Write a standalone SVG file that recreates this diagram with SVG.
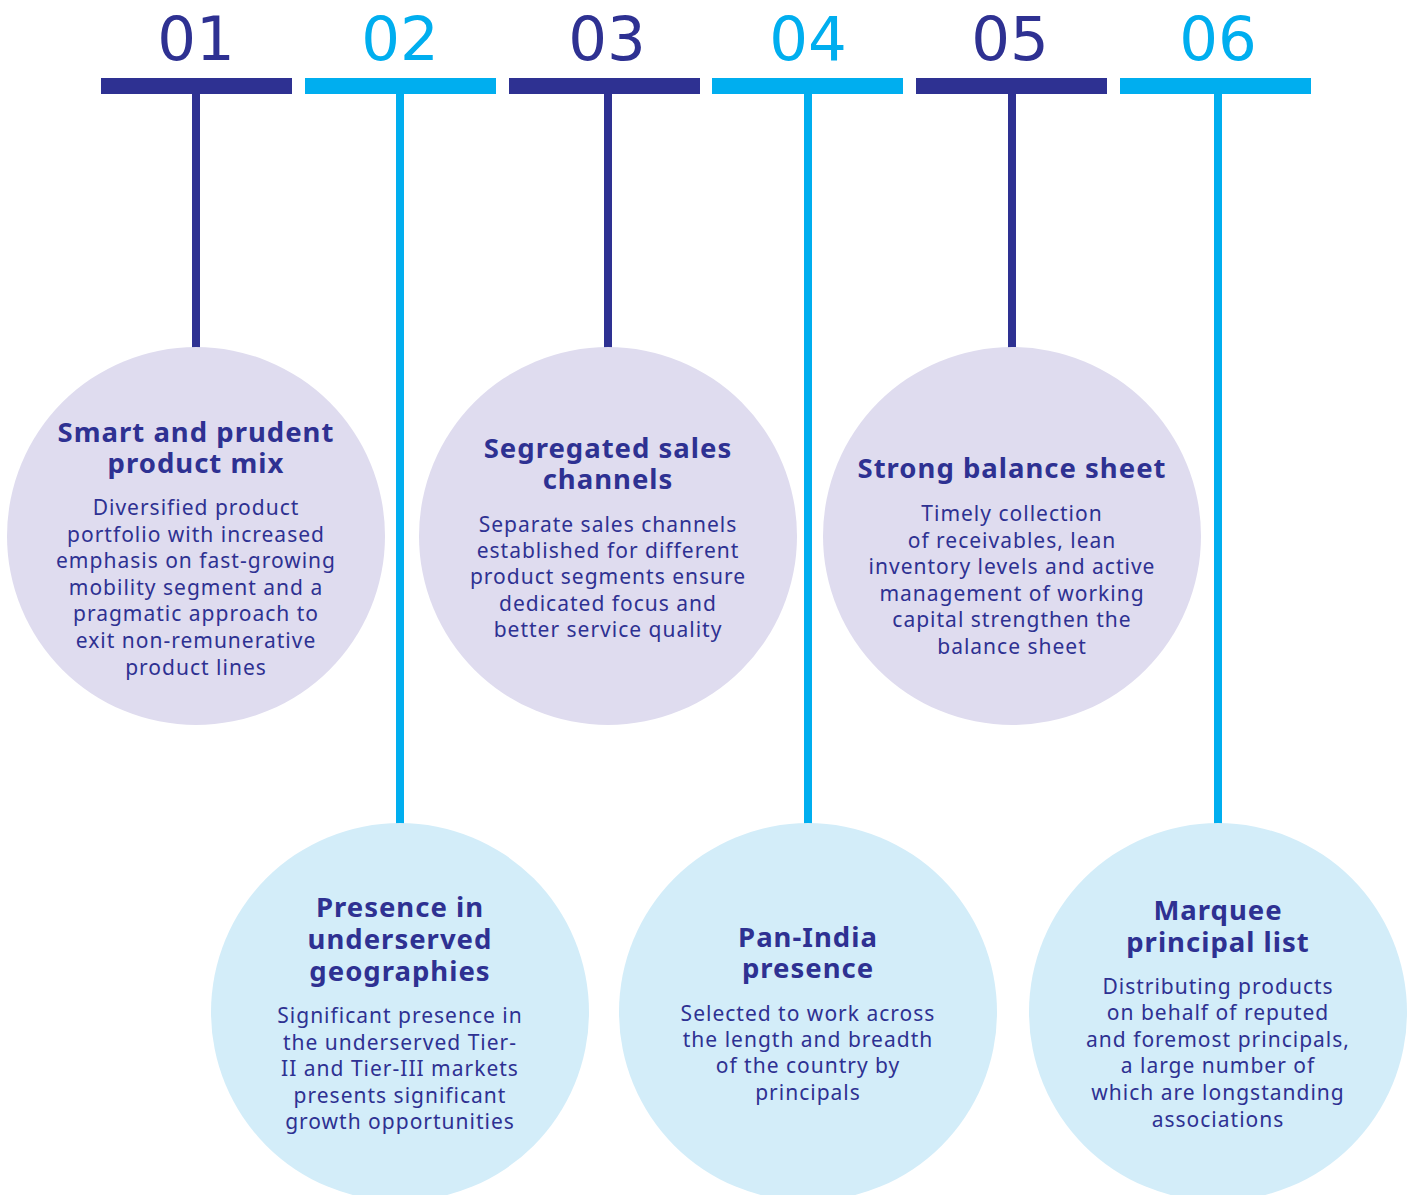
<svg xmlns="http://www.w3.org/2000/svg" width="1414" height="1195" viewBox="0 0 1414 1195">
<style>
.num{font-family:"DejaVu Sans",sans-serif;font-size:61px;text-anchor:middle}
.dk{fill:#2e3192}
.lt{fill:#00aeef}
.cp{fill:#dfdcef}
.cb{fill:#d3edf9}
.t{font-family:"Noto Sans","Open Sans",sans-serif;font-weight:bold;font-size:27.5px;letter-spacing:1px;fill:#2e3192;text-anchor:middle}
.b{font-family:"Noto Sans","Open Sans",sans-serif;font-size:21px;letter-spacing:1px;fill:#2e3192;text-anchor:middle}
</style>
<rect width="1414" height="1195" fill="#ffffff"/>
<g id="connectors">
<rect class="dk" x="192" y="90" width="8" height="258"/>
<rect class="lt" x="396" y="90" width="8" height="734"/>
<rect class="dk" x="604" y="90" width="8" height="258"/>
<rect class="lt" x="804" y="90" width="8" height="734"/>
<rect class="dk" x="1008" y="90" width="8" height="258"/>
<rect class="lt" x="1214" y="90" width="8" height="734"/>
</g>
<g id="header-01"><text class="num dk" x="196" y="60">01</text><rect class="dk" x="101" y="78" width="191" height="16"/></g>
<g id="header-02"><text class="num lt" x="400" y="60">02</text><rect class="lt" x="305" y="78" width="191" height="16"/></g>
<g id="header-03"><text class="num dk" x="607" y="60">03</text><rect class="dk" x="509" y="78" width="191" height="16"/></g>
<g id="header-04"><text class="num lt" x="808" y="60">04</text><rect class="lt" x="712" y="78" width="191" height="16"/></g>
<g id="header-05"><text class="num dk" x="1010" y="60">05</text><rect class="dk" x="916" y="78" width="191" height="16"/></g>
<g id="header-06"><text class="num lt" x="1218" y="60">06</text><rect class="lt" x="1120" y="78" width="191" height="16"/></g>
<g id="node-01">
<circle class="cp" cx="196" cy="536" r="189"/>
<text class="t" x="196" y="442">Smart and prudent</text>
<text class="t" x="196" y="473">product mix</text>
<text class="b" x="196" y="515">Diversified product</text>
<text class="b" x="196" y="542">portfolio with increased</text>
<text class="b" x="196" y="568">emphasis on fast-growing</text>
<text class="b" x="196" y="595">mobility segment and a</text>
<text class="b" x="196" y="621">pragmatic approach to</text>
<text class="b" x="196" y="648">exit non-remunerative</text>
<text class="b" x="196" y="675">product lines</text>
</g>
<g id="node-02">
<circle class="cb" cx="400" cy="1012" r="189"/>
<text class="t" x="400" y="917">Presence in</text>
<text class="t" x="400" y="949">underserved</text>
<text class="t" x="400" y="981">geographies</text>
<text class="b" x="400" y="1023">Significant presence in</text>
<text class="b" x="400" y="1050">the underserved Tier-</text>
<text class="b" x="400" y="1076">II and Tier-III markets</text>
<text class="b" x="400" y="1103">presents significant</text>
<text class="b" x="400" y="1129">growth opportunities</text>
</g>
<g id="node-03">
<circle class="cp" cx="608" cy="536" r="189"/>
<text class="t" x="608" y="458">Segregated sales</text>
<text class="t" x="608" y="489">channels</text>
<text class="b" x="608" y="532">Separate sales channels</text>
<text class="b" x="608" y="558">established for different</text>
<text class="b" x="608" y="584">product segments ensure</text>
<text class="b" x="608" y="611">dedicated focus and</text>
<text class="b" x="608" y="637">better service quality</text>
</g>
<g id="node-04">
<circle class="cb" cx="808" cy="1012" r="189"/>
<text class="t" x="808" y="947">Pan-India</text>
<text class="t" x="808" y="978">presence</text>
<text class="b" x="808" y="1021">Selected to work across</text>
<text class="b" x="808" y="1047">the length and breadth</text>
<text class="b" x="808" y="1073">of the country by</text>
<text class="b" x="808" y="1100">principals</text>
</g>
<g id="node-05">
<circle class="cp" cx="1012" cy="536" r="189"/>
<text class="t" x="1012" y="478">Strong balance sheet</text>
<text class="b" x="1012" y="521">Timely collection</text>
<text class="b" x="1012" y="548">of receivables, lean</text>
<text class="b" x="1012" y="574">inventory levels and active</text>
<text class="b" x="1012" y="601">management of working</text>
<text class="b" x="1012" y="627">capital strengthen the</text>
<text class="b" x="1012" y="654">balance sheet</text>
</g>
<g id="node-06">
<circle class="cb" cx="1218" cy="1012" r="189"/>
<text class="t" x="1218" y="920">Marquee</text>
<text class="t" x="1218" y="952">principal list</text>
<text class="b" x="1218" y="994">Distributing products</text>
<text class="b" x="1218" y="1020">on behalf of reputed</text>
<text class="b" x="1218" y="1047">and foremost principals,</text>
<text class="b" x="1218" y="1073">a large number of</text>
<text class="b" x="1218" y="1100">which are longstanding</text>
<text class="b" x="1218" y="1127">associations</text>
</g>
</svg>
